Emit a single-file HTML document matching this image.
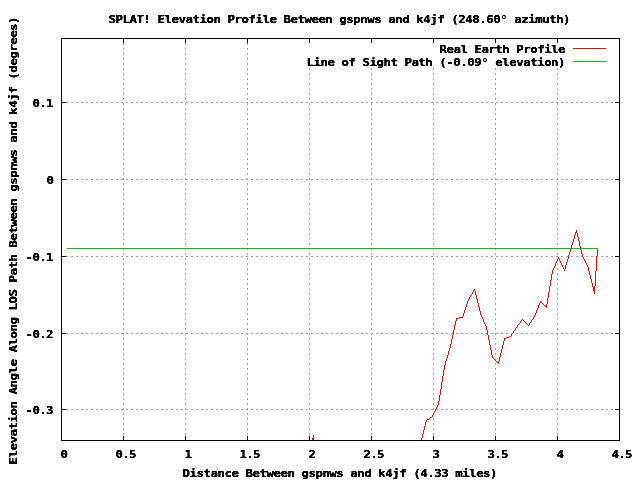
<!DOCTYPE html>
<html lang="en"><head><meta charset="utf-8"><title>SPLAT! Elevation Profile</title>
<style>
html,body{margin:0;padding:0;background:#fff;}
svg{display:block;}
text{font-family:"DejaVu Sans Mono","Liberation Mono",monospace;font-weight:bold;font-size:11.3px;fill:#000;white-space:pre;stroke:#000;stroke-width:0.3px;}
</style></head><body>
<svg width="640" height="480" viewBox="0 0 640 480">
<defs><filter id="crisp" x="0" y="0" width="100%" height="100%" filterUnits="userSpaceOnUse" color-interpolation-filters="sRGB"><feComponentTransfer><feFuncA type="linear" slope="2.2" intercept="-0.6"/></feComponentTransfer></filter></defs>
<rect width="640" height="480" fill="#fff"/>
<g shape-rendering="crispEdges" fill="none">
<g stroke="#a0a0a0" stroke-width="1" stroke-dasharray="2 3">
<line x1="61" y1="102.5" x2="620" y2="102.5"/>
<line x1="61" y1="179.5" x2="620" y2="179.5"/>
<line x1="61" y1="256.5" x2="620" y2="256.5"/>
<line x1="61" y1="333.5" x2="620" y2="333.5"/>
<line x1="61" y1="409.5" x2="620" y2="409.5"/>
<line x1="123.5" y1="38" x2="123.5" y2="441"/>
<line x1="185.5" y1="38" x2="185.5" y2="441"/>
<line x1="247.5" y1="38" x2="247.5" y2="441"/>
<line x1="309.5" y1="38" x2="309.5" y2="441"/>
<line x1="371.5" y1="38" x2="371.5" y2="441"/>
<line x1="433.5" y1="38" x2="433.5" y2="441"/>
<line x1="495.5" y1="38" x2="495.5" y2="441"/>
<line x1="557.5" y1="38" x2="557.5" y2="441"/>
</g>
<rect x="303" y="43" width="310" height="25" fill="#fff"/>
<g stroke="#000" stroke-width="1">
<rect x="61.5" y="38.5" width="558" height="402"/>
<line x1="123.5" y1="440" x2="123.5" y2="436"/><line x1="123.5" y1="39" x2="123.5" y2="43"/>
<line x1="185.5" y1="440" x2="185.5" y2="436"/><line x1="185.5" y1="39" x2="185.5" y2="43"/>
<line x1="247.5" y1="440" x2="247.5" y2="436"/><line x1="247.5" y1="39" x2="247.5" y2="43"/>
<line x1="309.5" y1="440" x2="309.5" y2="436"/><line x1="309.5" y1="39" x2="309.5" y2="43"/>
<line x1="371.5" y1="440" x2="371.5" y2="436"/><line x1="371.5" y1="39" x2="371.5" y2="43"/>
<line x1="433.5" y1="440" x2="433.5" y2="436"/><line x1="433.5" y1="39" x2="433.5" y2="43"/>
<line x1="495.5" y1="440" x2="495.5" y2="436"/><line x1="495.5" y1="39" x2="495.5" y2="43"/>
<line x1="557.5" y1="440" x2="557.5" y2="436"/><line x1="557.5" y1="39" x2="557.5" y2="43"/>
<line x1="62" y1="102.5" x2="66" y2="102.5"/><line x1="619" y1="102.5" x2="615" y2="102.5"/>
<line x1="62" y1="179.5" x2="66" y2="179.5"/><line x1="619" y1="179.5" x2="615" y2="179.5"/>
<line x1="62" y1="256.5" x2="66" y2="256.5"/><line x1="619" y1="256.5" x2="615" y2="256.5"/>
<line x1="62" y1="333.5" x2="66" y2="333.5"/><line x1="619" y1="333.5" x2="615" y2="333.5"/>
<line x1="62" y1="409.5" x2="66" y2="409.5"/><line x1="619" y1="409.5" x2="615" y2="409.5"/>
</g>
<path d="M312 438h1v2h-1zM313 435h1v5h-1zM421 438h1v2h-1zM422 434h1v4h-1zM423 430h1v4h-1zM424 426h1v4h-1zM425 422h1v4h-1zM426 420h1v2h-1zM427 419h1v1h-1zM428 419h1v1h-1zM429 418h1v1h-1zM430 417h1v1h-1zM431 417h1v1h-1zM432 415h1v2h-1zM433 413h1v2h-1zM434 411h1v2h-1zM435 409h1v2h-1zM436 407h1v2h-1zM437 405h1v2h-1zM438 401h1v4h-1zM439 395h1v6h-1zM440 389h1v6h-1zM441 382h1v7h-1zM442 376h1v6h-1zM443 370h1v6h-1zM444 365h1v5h-1zM445 361h1v4h-1zM446 358h1v3h-1zM447 355h1v3h-1zM448 351h1v4h-1zM449 348h1v3h-1zM450 344h1v4h-1zM451 339h1v5h-1zM452 335h1v4h-1zM453 330h1v5h-1zM454 325h1v5h-1zM455 321h1v4h-1zM456 318h1v3h-1zM457 318h1v1h-1zM458 318h1v1h-1zM459 317h1v1h-1zM460 317h1v1h-1zM461 317h1v1h-1zM462 316h1v2h-1zM463 313h1v3h-1zM464 310h1v3h-1zM465 307h1v3h-1zM466 304h1v3h-1zM467 301h1v3h-1zM468 299h1v2h-1zM469 297h1v2h-1zM470 295h1v2h-1zM471 294h1v1h-1zM472 292h1v2h-1zM473 290h1v2h-1zM474 289h1v2h-1zM475 291h1v4h-1zM476 295h1v4h-1zM477 299h1v4h-1zM478 303h1v4h-1zM479 307h1v4h-1zM480 311h1v4h-1zM481 315h1v2h-1zM482 317h1v2h-1zM483 319h1v3h-1zM484 322h1v2h-1zM485 324h1v2h-1zM486 326h1v4h-1zM487 330h1v5h-1zM488 335h1v5h-1zM489 340h1v5h-1zM490 345h1v5h-1zM491 350h1v5h-1zM492 355h1v3h-1zM493 358h1v1h-1zM494 359h1v1h-1zM495 360h1v1h-1zM496 361h1v1h-1zM497 362h1v1h-1zM498 361h1v3h-1zM499 357h1v4h-1zM500 353h1v4h-1zM501 349h1v4h-1zM502 345h1v4h-1zM503 341h1v4h-1zM504 338h1v3h-1zM505 338h1v1h-1zM506 337h1v1h-1zM507 337h1v1h-1zM508 337h1v1h-1zM509 336h1v1h-1zM510 336h1v1h-1zM511 334h1v2h-1zM512 333h1v1h-1zM513 331h1v2h-1zM514 330h1v1h-1zM515 328h1v2h-1zM516 327h1v1h-1zM517 325h1v2h-1zM518 324h1v1h-1zM519 323h1v1h-1zM520 321h1v2h-1zM521 320h1v1h-1zM522 319h1v1h-1zM523 320h1v1h-1zM524 321h1v1h-1zM525 322h1v1h-1zM526 323h1v1h-1zM527 324h1v1h-1zM528 325h1v1h-1zM529 323h1v2h-1zM530 322h1v1h-1zM531 320h1v2h-1zM532 319h1v1h-1zM533 317h1v2h-1zM534 315h1v2h-1zM535 313h1v2h-1zM536 310h1v3h-1zM537 308h1v2h-1zM538 305h1v3h-1zM539 303h1v2h-1zM540 301h1v2h-1zM541 302h1v1h-1zM542 303h1v1h-1zM543 304h1v1h-1zM544 305h1v1h-1zM545 306h1v1h-1zM546 304h1v4h-1zM547 298h1v6h-1zM548 292h1v6h-1zM549 286h1v6h-1zM550 280h1v6h-1zM551 274h1v6h-1zM552 270h1v4h-1zM553 268h1v2h-1zM554 266h1v2h-1zM555 263h1v3h-1zM556 261h1v2h-1zM557 259h1v2h-1zM558 257h1v2h-1zM559 259h1v2h-1zM560 261h1v2h-1zM561 263h1v2h-1zM562 265h1v2h-1zM563 267h1v2h-1zM564 269h1v2h-1zM565 265h1v4h-1zM566 262h1v3h-1zM567 259h1v3h-1zM568 255h1v4h-1zM569 252h1v3h-1zM570 249h1v3h-1zM571 245h1v4h-1zM572 242h1v3h-1zM573 239h1v3h-1zM574 235h1v4h-1zM575 232h1v3h-1zM576 230h1v3h-1zM577 233h1v4h-1zM578 237h1v4h-1zM579 241h1v5h-1zM580 246h1v4h-1zM581 250h1v4h-1zM582 254h1v3h-1zM583 257h1v2h-1zM584 259h1v2h-1zM585 261h1v2h-1zM586 263h1v2h-1zM587 265h1v2h-1zM588 267h1v4h-1zM589 271h1v4h-1zM590 275h1v4h-1zM591 279h1v4h-1zM592 283h1v4h-1zM593 287h1v4h-1zM594 286h1v8h-1zM595 271h1v15h-1zM596 256h1v15h-1zM597 248h1v8h-1z" fill="#ff0000"/>
<rect x="573" y="48" width="33" height="1" fill="#ff0000"/>
<rect x="67" y="248" width="531" height="1" fill="#00c000"/>
<rect x="573" y="61" width="33" height="1" fill="#00c000"/>
</g>
<g filter="url(#crisp)">
<text transform="translate(108.6 22.6) scale(1.1 1)" textLength="420.0" lengthAdjust="spacing">SPLAT! Elevation Profile Between gspnws and k4jf (248.60° azimuth)</text>
<text transform="translate(439.6 52.6) scale(1.1 1)" textLength="114.55" lengthAdjust="spacing">Real Earth Profile</text>
<text transform="translate(306.6 65.6) scale(1.1 1)" textLength="235.45" lengthAdjust="spacing">Line of Sight Path (-0.09° elevation)</text>
<text transform="translate(32.6 106.6) scale(1.1 1)" textLength="19.09" lengthAdjust="spacing">0.1</text>
<text transform="translate(46.6 183.6) scale(1.1 1)" textLength="6.36" lengthAdjust="spacing">0</text>
<text transform="translate(25.6 260.6) scale(1.1 1)" textLength="25.45" lengthAdjust="spacing">-0.1</text>
<text transform="translate(25.6 337.6) scale(1.1 1)" textLength="25.45" lengthAdjust="spacing">-0.2</text>
<text transform="translate(25.6 413.6) scale(1.1 1)" textLength="25.45" lengthAdjust="spacing">-0.3</text>
<text transform="translate(60.6 457.6) scale(1.1 1)" textLength="6.36" lengthAdjust="spacing">0</text>
<text transform="translate(115.6 457.6) scale(1.1 1)" textLength="19.09" lengthAdjust="spacing">0.5</text>
<text transform="translate(184.6 457.6) scale(1.1 1)" textLength="6.36" lengthAdjust="spacing">1</text>
<text transform="translate(239.6 457.6) scale(1.1 1)" textLength="19.09" lengthAdjust="spacing">1.5</text>
<text transform="translate(308.6 457.6) scale(1.1 1)" textLength="6.36" lengthAdjust="spacing">2</text>
<text transform="translate(363.6 457.6) scale(1.1 1)" textLength="19.09" lengthAdjust="spacing">2.5</text>
<text transform="translate(432.6 457.6) scale(1.1 1)" textLength="6.36" lengthAdjust="spacing">3</text>
<text transform="translate(487.6 457.6) scale(1.1 1)" textLength="19.09" lengthAdjust="spacing">3.5</text>
<text transform="translate(556.6 457.6) scale(1.1 1)" textLength="6.36" lengthAdjust="spacing">4</text>
<text transform="translate(611.6 457.6) scale(1.1 1)" textLength="19.09" lengthAdjust="spacing">4.5</text>
<text transform="translate(182.6 476.6) scale(1.1 1)" textLength="286.36" lengthAdjust="spacing">Distance Between gspnws and k4jf (4.33 miles)</text>
<text transform="translate(16.6 464.4) rotate(-90) scale(1.1 1)" textLength="407.27" lengthAdjust="spacing">Elevation Angle Along LOS Path Between gspnws and k4jf (degrees)</text>
</g>
</svg></body></html>
